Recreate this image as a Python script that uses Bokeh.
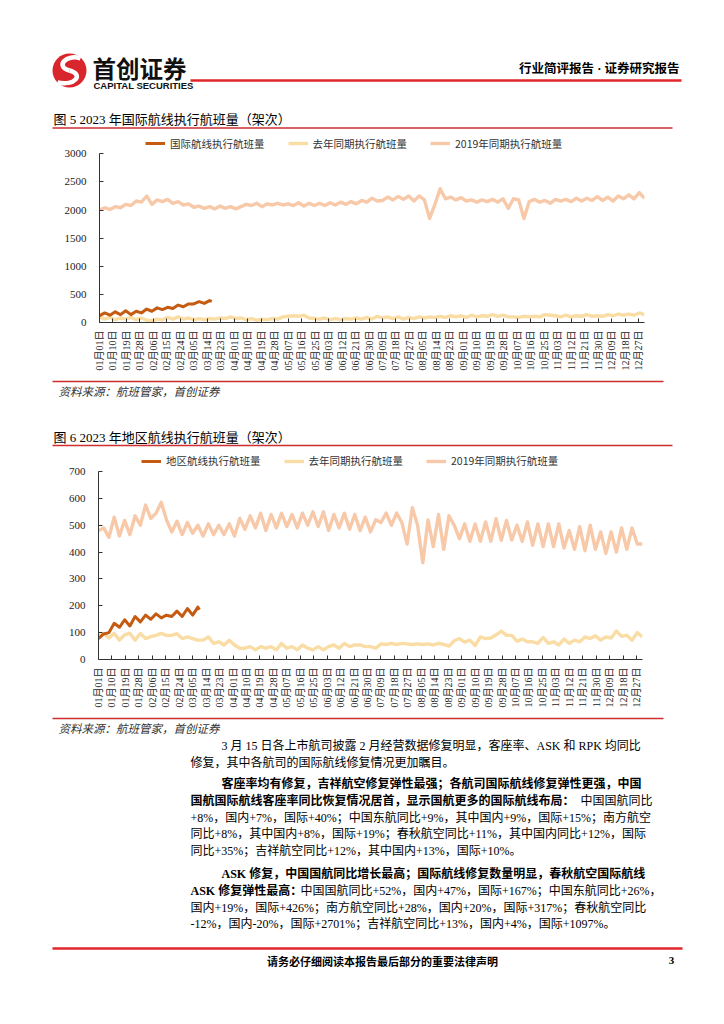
import numpy as np
from bokeh.plotting import figure
from bokeh.models import Range1d, FixedTicker, Legend, LegendItem
from bokeh.layouts import column
from bokeh.core.properties import value
from bokeh.embed import file_html
from bokeh.resources import INLINE

PAGE_W = 724
SERIF = "'Liberation Serif', 'Noto Sans CJK SC'"
CJK = "'Noto Sans CJK SC'"
LATIN_SANS = "'Liberation Sans', 'Noto Sans CJK SC'"
RED = "#D9262C"
LINE_RED = "#CF2E2E"
C2023 = "#C55A11"
C2022 = "#F9DDA4"
C2019 = "#F8C9A9"

# ---------------- data ----------------
tick_labels = ["01月01日", "01月10日", "01月19日", "01月28日", "02月06日", "02月15日", "02月24日",
               "03月05日", "03月14日", "03月23日", "04月01日", "04月10日", "04月19日", "04月28日",
               "05月07日", "05月16日", "05月25日", "06月03日", "06月12日", "06月21日", "06月30日",
               "07月09日", "07月18日", "07月27日", "08月05日", "08月14日", "08月23日", "09月01日",
               "09月10日", "09月19日", "09月28日", "10月07日", "10月16日", "10月25日", "11月03日",
               "11月12日", "11月21日", "11月30日", "12月09日", "12月18日", "12月27日"]
tick_days = [0, 9, 18, 27, 36, 45, 54, 63, 72, 81, 90, 99, 108, 117, 126, 135, 144, 153, 162,
             171, 180, 189, 198, 207, 216, 225, 234, 243, 252, 261, 270, 279, 288, 297, 306, 315,
             324, 333, 342, 351, 360]

# sample positions (day of year) for the full-year series: every half week
sample_days = [i * 3.5 for i in range(105)]

# Figure 5: international routes
intl_2019 = [2000, 2040, 2010, 2060, 2040, 2100, 2080, 2160, 2140, 2250,
             2100, 2180, 2150, 2190, 2120, 2150, 2090, 2110, 2050, 2070,
             2030, 2060, 2020, 2070, 2030, 2060, 2020, 2060, 2100, 2080,
             2120, 2060, 2110, 2090, 2120, 2090, 2110, 2080, 2130, 2070,
             2120, 2080, 2120, 2080, 2130, 2090, 2140, 2100, 2150, 2110,
             2170, 2140, 2210, 2160, 2170, 2230, 2180, 2240, 2190, 2250,
             2160, 2250, 2180, 1850, 2100, 2380, 2200, 2230, 2180, 2220,
             2160, 2180, 2140, 2180, 2150, 2190, 2140, 2200, 2030, 2200,
             2180, 1850, 2150, 2190, 2140, 2170, 2120, 2190, 2160, 2190,
             2150, 2210, 2160, 2210, 2170, 2240, 2170, 2230, 2160, 2250,
             2200, 2270, 2200, 2310, 2210]
intl_2022 = [100, 60, 90, 50, 80, 60, 90, 50, 80, 40,
             30, 60, 50, 90, 60, 100, 60, 80, 50, 70,
             50, 70, 60, 80, 70, 100, 70, 80, 50, 70,
             40, 60, 50, 70, 60, 100, 110, 120, 110, 130,
             80, 70, 60, 80, 50, 70, 50, 70, 60, 80,
             60, 90, 60, 110, 80, 100, 70, 100, 60, 90,
             70, 100, 80, 100, 90, 110, 90, 120, 100, 120,
             90, 130, 100, 120, 110, 140, 110, 130, 100, 100,
             90, 110, 100, 110, 100, 140, 130, 120, 100, 130,
             100, 120, 110, 140, 110, 120, 110, 140, 120, 150,
             130, 150, 130, 170, 140]
intl_2023_days = [0, 3.5, 7, 10.5, 14, 17.5, 21, 24.5, 28, 31.5, 35, 38.5, 42, 45.5, 49, 52.5,
                  56, 59.5, 63, 66.5, 70, 73.5, 75]
intl_2023 = [120, 170, 130, 190, 140, 210, 140, 200, 170, 240, 200, 260, 230, 270, 250, 310,
             280, 330, 330, 370, 340, 390, 375]

# Figure 6: regional routes
reg_2019 = [480, 490, 455, 530, 460, 518, 465, 535, 500, 575,
            525, 545, 585, 520, 475, 515, 465, 510, 470, 500,
            460, 505, 465, 500, 465, 505, 460, 525, 485, 535,
            490, 545, 480, 540, 490, 545, 495, 540, 490, 545,
            500, 550, 495, 550, 480, 540, 490, 545, 485, 540,
            480, 530, 475, 520, 510, 545, 500, 545, 510, 430,
            565, 500, 360, 520, 420, 540, 410, 535, 500, 450,
            505, 440, 505, 440, 512, 440, 524, 444, 518, 445,
            500, 440, 512, 425, 505, 420, 505, 420, 505, 415,
            480, 410, 495, 405, 500, 410, 475, 395, 475, 400,
            490, 410, 490, 430, 430]
reg_2022 = [88, 97, 80, 98, 72, 92, 98, 72, 97, 78,
            85, 90, 97, 90, 90, 96, 78, 84, 78, 72,
            72, 84, 60, 66, 54, 72, 54, 42, 42, 48,
            36, 48, 42, 48, 36, 60, 42, 48, 36, 54,
            42, 36, 48, 36, 48, 54, 42, 60, 48, 54,
            54, 48, 48, 42, 58, 56, 60, 56, 60, 58,
            56, 58, 56, 58, 54, 60, 56, 50, 70, 78,
            65, 72, 52, 84, 78, 80, 92, 106, 90, 90,
            68, 76, 66, 66, 60, 82, 60, 66, 54, 76,
            60, 72, 66, 84, 78, 88, 72, 84, 80, 106,
            86, 90, 72, 100, 84]
reg_2023_days = [0, 3.5, 7, 10.5, 14, 17.5, 21, 24.5, 28, 31.5, 35, 38.5, 42, 45.5, 49, 52.5,
                 56, 59.5, 63, 66.5, 67.5]
reg_2023 = [78, 95, 100, 135, 120, 148, 125, 160, 140, 165, 150, 170, 155, 165, 160, 180,
            160, 190, 165, 195, 185]

intl_names = ["国际航线执行航班量", "去年同期执行航班量", "2019年同期执行航班量"]
reg_names = ["地区航线执行航班量", "去年同期执行航班量", "2019年同期执行航班量"]
intl_y_ticks = [0, 500, 1000, 1500, 2000, 2500, 3000]
reg_y_ticks = [0, 100, 200, 300, 400, 500, 600, 700]

title5 = "图  5 2023 年国际航线执行航班量（架次）"
title6 = "图  6 2023 年地区航线执行航班量（架次）"
source_text = "资料来源：航班管家，首创证券"


# ---------------- helpers ----------------
def no_align(p):
    try:
        p.frame_align = False
    except Exception:
        pass


def canvas(top, bottom):
    p = figure(width=PAGE_W, height=bottom - top,
               x_range=Range1d(0, PAGE_W), y_range=Range1d(bottom, top),
               toolbar_location=None, output_backend="svg", min_border=0,
               x_axis_location=None, y_axis_location=None)
    p.grid.visible = False
    p.outline_line_color = None
    no_align(p)
    return p


def txt(p, x, y, s, size, font=SERIF, bold=False, italic=False, align="left", color="#000000"):
    style = "normal"
    if bold and italic:
        style = "bold italic"
    elif bold:
        style = "bold"
    elif italic:
        style = "italic"
    p.text(x=[x], y=[y], text=[s], text_font=value(font), text_font_size=size,
           text_font_style=style, text_align=align, text_baseline="middle", text_color=color)


def hline(p, x0, x1, y, width, color=LINE_RED):
    p.line(x=[x0, x1], y=[y, y], line_color=color, line_width=width)


def make_chart(fig_top, frame_top, y_top_px, frame_bottom, fig_bottom, frame_left, frame_right,
               y_max, y_ticks, s2019, s2022, d2023, s2023, names, legend_x, legend_mid):
    px_per_unit = (frame_bottom - y_top_px) / y_max
    y_end = (frame_bottom - frame_top) / px_per_unit
    p = figure(width=PAGE_W, height=fig_bottom - fig_top,
               x_range=Range1d(0, 364), y_range=Range1d(0, y_end),
               toolbar_location=None, output_backend="svg",
               min_border_left=frame_left, min_border_right=PAGE_W - frame_right,
               min_border_top=frame_top - fig_top, min_border_bottom=fig_bottom - frame_bottom)
    no_align(p)
    p.grid.visible = False
    p.outline_line_color = None
    r19 = p.line(sample_days, s2019, line_color=C2019, line_width=3.4, line_join="round")
    r22 = p.line(sample_days, s2022, line_color=C2022, line_width=3.4, line_join="round")
    r23 = p.line(d2023, s2023, line_color=C2023, line_width=3, line_join="round")

    xa = p.xaxis[0]
    xa.ticker = FixedTicker(ticks=tick_days)
    xa.major_label_overrides = {d: lab for d, lab in zip(tick_days, tick_labels)}
    xa.major_label_orientation = float(np.pi / 2)
    xa.major_tick_in = 4
    xa.major_tick_out = 0
    xa.minor_tick_line_color = None
    xa.major_label_standoff = 8
    xa.major_label_text_font = SERIF
    xa.major_label_text_font_size = "10px"
    xa.major_label_text_color = "#222222"
    xa.axis_line_color = "#333333"
    xa.major_tick_line_color = "#333333"

    ya = p.yaxis[0]
    ya.ticker = FixedTicker(ticks=y_ticks)
    ya.bounds = (0, y_max)
    ya.major_tick_in = 4
    ya.major_tick_out = 0
    ya.minor_tick_line_color = None
    ya.major_label_standoff = 13
    ya.major_label_text_font = "Liberation Serif"
    ya.major_label_text_font_size = "11px"
    ya.major_label_text_color = "#222222"
    ya.axis_line_color = "#333333"
    ya.major_tick_line_color = "#333333"

    legend = Legend(items=[LegendItem(label=names[0], renderers=[r23]),
                           LegendItem(label=names[1], renderers=[r22]),
                           LegendItem(label=names[2], renderers=[r19])],
                    orientation="horizontal",
                    location=(legend_x - frame_left, frame_bottom - (legend_mid + 7)),
                    border_line_color=None, background_fill_alpha=0,
                    padding=0, margin=0, spacing=23, glyph_width=20, glyph_height=14,
                    label_height=14, label_standoff=5,
                    label_text_font=CJK, label_text_font_size="10.5px",
                    label_text_color="#333333")
    p.add_layout(legend)
    return p


# ---------------- header + figure 5 title ----------------
pa = canvas(0, 130)
pa.circle(x=[69], y=[70], radius=17, fill_color=RED, line_color=None)
pa.bezier(x0=[80], y0=[58], x1=[69], y1=[70], cx0=[66], cy0=[53], cx1=[54], cy1=[66],
          line_color="white", line_width=4.5)
pa.bezier(x0=[69], y0=[70], x1=[57], y1=[82], cx0=[84], cy0=[74], cx1=[74], cy1=[86],
          line_color="white", line_width=4.5)
txt(pa, 92, 67, "首创证券", "23.5px", font=CJK, bold=True, color="#111111")
txt(pa, 93, 85, "CAPITAL SECURITIES", "9.5px", font=LATIN_SANS, bold=True, color="#111111")
hline(pa, 190, 681, 80, 2.5, color="#E0262A")
txt(pa, 679, 68, "行业简评报告 · 证券研究报告", "12.5px", font=SERIF, bold=True, align="right")
txt(pa, 53, 119, title5, "13px")
hline(pa, 52, 672, 127.5, 1.5)

# ---------------- chart 1 ----------------
p1 = make_chart(130, 132, 153.3, 322, 378, 99, 644, 3000, intl_y_ticks,
                intl_2019, intl_2022, intl_2023_days, intl_2023, intl_names, 145, 143.5)

# ---------------- middle: source + figure 6 title ----------------
pm = canvas(378, 449)
hline(pm, 52, 663, 381, 1.5)
txt(pm, 58, 390.5, source_text, "11.5px", font=CJK, italic=True, color="#333333")
txt(pm, 53, 437, title6, "13px")
hline(pm, 52, 672, 445, 1.5)

# ---------------- chart 2 ----------------
p2 = make_chart(449, 451, 471, 659, 716, 98, 642, 700, reg_y_ticks,
                reg_2019, reg_2022, reg_2023_days, reg_2023, reg_names, 141, 461)

# ---------------- text block ----------------
pb = canvas(716, 1020)
hline(pb, 52, 663, 718, 1.5)
txt(pb, 58, 727.5, source_text, "11.5px", font=CJK, italic=True, color="#333333")

FS = "12px"
txt(pb, 221, 745, "3 月 15 日各上市航司披露 2 月经营数据修复明显，客座率、ASK 和 RPK 均同比", FS)
txt(pb, 190, 762, "修复，其中各航司的国际航线修复情况更加瞩目。", FS)

txt(pb, 221, 783, "客座率均有修复，吉祥航空修复弹性最强；各航司国际航线修复弹性更强，中国", FS, bold=True)
txt(pb, 190, 800, "国航国际航线客座率同比恢复情况居首，显示国航更多的国际航线布局：", FS, bold=True)
txt(pb, 580, 800, "中国国航同比", FS)
txt(pb, 190, 817, "+8%，国内+7%，国际+40%；中国东航同比+9%，其中国内+9%，国际+15%；南方航空", FS)
txt(pb, 190, 833, "同比+8%，其中国内+8%，国际+19%；春秋航空同比+11%，其中国内同比+12%，国际", FS)
txt(pb, 190, 850, "同比+35%；吉祥航空同比+12%，其中国内+13%，国际+10%。", FS)

txt(pb, 221, 873, "ASK 修复，中国国航同比增长最高；国际航线修复数量明显，春秋航空国际航线", FS, bold=True)
txt(pb, 190, 890, "ASK 修复弹性最高：", FS, bold=True)
txt(pb, 300, 890, "中国国航同比+52%，国内+47%，国际+167%；中国东航同比+26%，", FS)
txt(pb, 190, 907, "国内+19%，国际+426%；南方航空同比+28%，国内+20%，国际+317%；春秋航空同比", FS)
txt(pb, 190, 923, "-12%，国内-20%，国际+2701%；吉祥航空同比+13%，国内+4%，国际+1097%。", FS)

hline(pb, 52, 682, 948, 2.5, color="#E0262A")
txt(pb, 382, 960, "请务必仔细阅读本报告最后部分的重要法律声明", "11px", font=CJK, bold=True, align="center")
txt(pb, 671, 960, "3", "11px", font="Liberation Serif", bold=True, align="center")

layout = column(pa, p1, pm, p2, pb, spacing=0)
open("out.html", "w").write(file_html(layout, INLINE))
